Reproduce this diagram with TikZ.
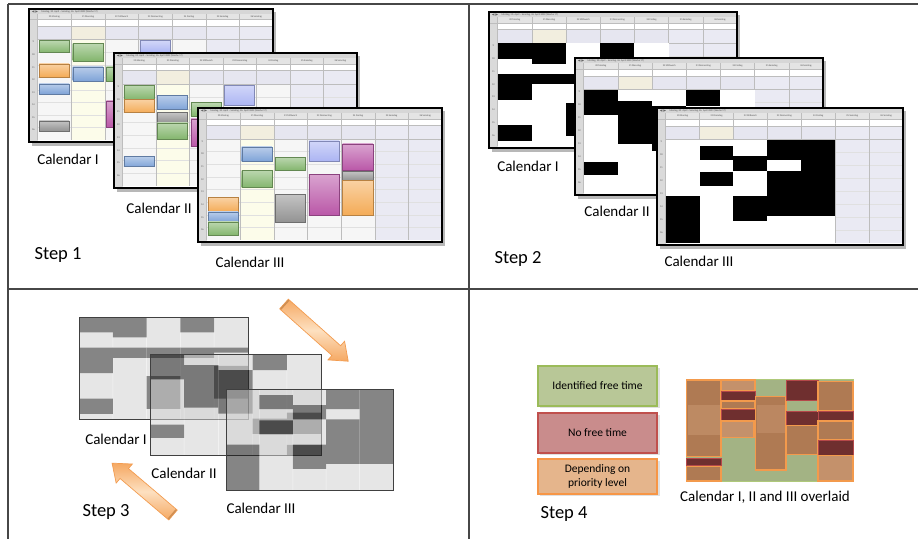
\documentclass[tikz,border=0pt]{standalone}
\usepackage{fontspec}
\setmainfont{Carlito}
\usetikzlibrary{calc}

% table rules
\definecolor{ruleline}{HTML}{474747}
% calendar window colours
\definecolor{caltitle}{HTML}{D6D6D6}
\definecolor{calhead}{HTML}{E4E4E4}
\definecolor{calhour}{HTML}{DADADA}
\definecolor{calallday}{HTML}{E6E6F0}
\definecolor{caltue}{HTML}{F2EEDF}
\definecolor{calgrid}{HTML}{F6F6F6}
\definecolor{calyellow}{HTML}{FCFCEA}
\definecolor{calweekend}{HTML}{EAEAF3}
\definecolor{calsep}{HTML}{BDBDBD}
\definecolor{calhline}{HTML}{E0E0E0}
% event colours
\definecolor{evgreen}{HTML}{84B66E}
\definecolor{evorange}{HTML}{F4AC58}
\definecolor{evblue}{HTML}{80A4D8}
\definecolor{evlav}{HTML}{ACB5F3}
\definecolor{evmag}{HTML}{BA58A8}
\definecolor{evgray}{HTML}{939393}
% arrows
\definecolor{arrowedge}{HTML}{F5A862}
\definecolor{arrowpale}{HTML}{FDE0C0}
\definecolor{arrowline}{HTML}{F39C50}
% legend and overlay
\definecolor{lgfree}{HTML}{B8C797}
\definecolor{lgfreeline}{HTML}{9BBB59}
\definecolor{lgbusy}{HTML}{C98C8C}
\definecolor{lgbusyline}{HTML}{C0504D}
\definecolor{lgprio}{HTML}{E5B58C}
\definecolor{lgprioline}{HTML}{F79646}
\definecolor{ovgreen}{HTML}{A3B384}
\definecolor{ovbrown}{HTML}{AF7A53}
\definecolor{ovbrownlight}{HTML}{C4916B}
\definecolor{ovmaroon}{HTML}{6F2F2F}
\definecolor{ovred}{HTML}{B5484A}
\definecolor{ovorange}{HTML}{F39A4C}

\tikzset{
  rule/.style={draw=ruleline, line width=1.4pt},
  callabel/.style={font=\fontsize{15}{18}\selectfont, inner sep=0pt},
  steplabel/.style={font=\fontsize{18.5}{22}\selectfont, inner sep=0pt},
  tinytext/.style={font=\fontsize{2.5}{3}\selectfont, inner sep=0pt, text=black!70},
  legendbox/.style={minimum width=119pt, inner sep=0pt, line width=1.3pt,
    font=\fontsize{11.5}{14}\selectfont, align=center},
  ovbusy/.style={fill=ovmaroon, draw=ovred, line width=.9pt},
  ovprio/.style={fill=ovbrown, draw=ovorange, line width=1.1pt},
}

% unit layout of a calendar window: hour column, day column width
\def\calhc{0.035}
\def\calcw{0.1379}

% busy blocks (day / start / end as fractions of the working day)
\def\calIbusy{0/0/.15, 0/.30/.55, 0/.80/.95, 1/0/.20, 1/.30/.40, 2/.30/.40, 2/.58/.90, 3/0/.15, 3/.30/.40, 4/.30/.35, 4/.48/.80}
\def\calIIbusy{0/0/.25, 0/.70/.83, 1/.11/.53, 2/.16/.59, 3/0/.16, 3/.64/.79, 4/.58/.79, 4/.90/1}
\def\calIIIbusy{0/.55/1, 1/.06/.20, 1/.31/.45, 2/.16/.30, 2/.55/.79, 3/0/.20, 3/.30/.74, 4/0/.74}
% coloured appointments
\def\calIevents{0/.01/.13/evgreen, 0/.24/.37/evorange, 0/.44/.54/evblue, 0/.81/.91/evgray, 1/.04/.21/evgreen, 1/.27/.41/evblue, 2/.27/.41/evgreen, 2/.61/.87/evmag, 3/.01/.13/evlav}
\def\calIIevents{0/.01/.15/evgreen, 0/.15/.28/evorange, 0/.71/.81/evblue, 1/.11/.25/evblue, 1/.28/.38/evgray, 1/.38/.54/evgreen, 2/.18/.31/evgreen, 2/.34/.61/evmag, 3/.01/.21/evlav}
\def\calIIIevents{0/.58/.72/evorange, 0/.72/.82/evblue, 0/.82/.95/evgreen, 1/.08/.22/evblue, 1/.31/.48/evgreen, 2/.18/.31/evgreen, 2/.55/.82/evgray, 3/.02/.22/evlav, 3/.35/.75/evmag, 4/.05/.31/evmag, 4/.32/.41/evgray, 4/.41/.75/evorange}

% week-view window: #1 name, #2/#3 top left, #4/#5 size, #6 mode (1 colour, 2 busy), #7 entries
\newcommand\calwin[7]{%
  \fill[black,opacity=.28] ({#2+2.5},{#3+3}) rectangle ({#2+#4+3},{#3+#5+3.5});
  \begin{scope}[shift={(#2,#3)}, x=#4pt, y=-#5pt]
    \fill[white] (0,0) rectangle (1,1);
    \fill[caltitle] (0,0) rectangle (1,.037);
    \fill[calhead] (\calhc,.037) rectangle (1,.08);
    \fill[calhour] (0,.037) rectangle (\calhc,1);
    \fill[calallday] (\calhc,.13) rectangle ({\calhc+7*\calcw},.23);
    \fill[caltue] ({\calhc+\calcw},.13) rectangle ({\calhc+2*\calcw},.23);
    \fill[calgrid] (\calhc,.23) rectangle ({\calhc+7*\calcw},.985);
    \fill[calyellow] ({\calhc+\calcw},.23) rectangle ({\calhc+2*\calcw},.985);
    \fill[calweekend] ({\calhc+5*\calcw},.13) rectangle ({\calhc+7*\calcw},.985);
    \foreach \i in {1,...,7}
      \draw[calhline, line width=.3pt] (\calhc,{.23+\i*.755/8}) -- ({\calhc+7*\calcw},{.23+\i*.755/8});
    \foreach \k in {0,...,7}
      \draw[calsep, line width=.4pt] ({\calhc+\k*\calcw},.037) -- ({\calhc+\k*\calcw},.985);
    \draw[calsep, line width=.4pt] (0,.08) -- (1,.08) (\calhc,.13) -- (1,.13) (\calhc,.23) -- (1,.23);
    \ifnum#6=2
      \fill[white] (\calhc,.23) rectangle ({\calhc+5*\calcw},.985);
      \foreach \d/\s/\e/\col in #7
        \fill[black] ({\calhc+\d*\calcw},{.23+\s*.755}) rectangle ({\calhc+(\d+1)*\calcw},{.23+\e*.755});
    \else
      \foreach \d/\s/\e/\col in #7
        \draw[line width=.3pt, draw=\col!75!black, top color=\col!55!white, bottom color=\col]
          ({\calhc+\d*\calcw+.006},{.23+\s*.755}) rectangle ({\calhc+(\d+1)*\calcw-.008},{.23+\e*.755});
    \fi
    \fill[black!60] (.012,.0185) -- (.022,.010) -- (.022,.027) -- cycle;
    \fill[black!60] (.036,.0185) -- (.026,.010) -- (.026,.027) -- cycle;
    \node[tinytext, anchor=west] (#1-title) at (.05,.0185) {Montag, 20. April – Sonntag, 26. April 2009 (Woche 17)};
    \foreach \n [count=\k from 0] in {20 Montag, 21 Dienstag, 22 Mittwoch, 23 Donnerstag, 24 Freitag, 25 Samstag, 26 Sonntag}
      \node[tinytext] (#1-day\k) at ({\calhc+(\k+.5)*\calcw},.0585) {\n};
    \foreach \h [count=\i] in {9,...,16}
      \node[tinytext] (#1-hour\h) at ({\calhc/2},{.23+(\i-.8)*.755/8}) {\h};
    \draw[black, line width=2.6pt] (0,0) rectangle (1,1);
  \end{scope}}

% grey busy map: #1/#2 top left, #3/#4 size, #5 entries
\newcommand\graycal[5]{%
  \begin{scope}[shift={(#1,#2)}, x=#3pt, y=-#4pt]
    \begin{scope}[transparency group, opacity=.53]
      \fill[black!18] (0,0) rectangle (1,1);
      \foreach \k in {1,...,4} \draw[black!6, line width=.5pt] ({\k/5},0) -- ({\k/5},1);
      \foreach \d/\s/\e in #5 \fill[black!90] ({\d/5},\s) rectangle ({(\d+1)/5},\e);
    \end{scope}
    \draw[black!75, line width=.7pt] (0,0) rectangle (1,1);
  \end{scope}}

% block arrow: #1/#2 tail centre, #3 direction angle, #4 length
\newcommand\orangearrow[4]{%
  \begin{scope}[shift={(#1,#2)}, rotate=#3]
    \draw[arrowline, line width=.7pt, top color=arrowedge, bottom color=arrowedge, middle color=arrowpale]
      (0,-6.5) -- ({#4-16},-6.5) -- ({#4-16},-12.5) -- (#4,0) -- ({#4-16},12.5) -- ({#4-16},6.5) -- (0,6.5) -- cycle;
    \draw[arrowedge!85!black, line width=1.6pt] (1,-6) -- (1,6);
  \end{scope}}

\begin{document}
\begin{tikzpicture}[x=1pt, y=-1pt]
  \useasboundingbox (0,0) rectangle (918,539);
  \fill[white] (0,0) rectangle (918,539);

  % ---------- table rules ----------
  \draw[rule] (8,4) -- (918,4);
  \draw[rule] (8,4) -- (8,539);
  \draw[rule] (469,4) -- (469,539);
  \draw[rule] (8,289) -- (918,289);

  % ---------- Step 1: the three calendars ----------
  \calwin{ca}{29}{9}{244}{133}{1}{\calIevents}
  \calwin{cb}{114}{53}{243}{135}{1}{\calIIevents}
  \calwin{cc}{198}{108}{244}{134}{1}{\calIIIevents}
  \node[callabel] (s1calI) at (68,159) {Calendar I};
  \node[callabel] (s1calII) at (159,208) {Calendar II};
  \node[callabel] (s1calIII) at (250,262) {Calendar III};
  \node[steplabel] (step1) at (58,255) {Step 1};

  % ---------- Step 2: busy / free ----------
  \calwin{da}{489}{12}{248}{136}{2}{\calIbusy}
  \calwin{db}{575}{58}{248}{137}{2}{\calIIbusy}
  \calwin{dc}{657}{108}{246}{137}{2}{\calIIIbusy}
  \node[callabel] (s2calI) at (528,166) {Calendar I};
  \node[callabel] (s2calII) at (617,211) {Calendar II};
  \node[callabel] (s2calIII) at (699,261) {Calendar III};
  \node[steplabel] (step2) at (518,259) {Step 2};

  % ---------- Step 3: stacked grey maps ----------
  \graycal{79}{317}{169}{102}{\calIbusy}
  \graycal{150}{354}{171}{101}{\calIIbusy}
  \graycal{226}{389}{167}{101}{\calIIIbusy}
  \orangearrow{284}{304}{-41.7}{86}
  \orangearrow{173}{515}{139.6}{80}
  \node[callabel] (s3calI) at (116,439) {Calendar I};
  \node[callabel] (s3calII) at (184,473) {Calendar II};
  \node[callabel] (s3calIII) at (261,508) {Calendar III};
  \node[steplabel] (step3) at (106,512) {Step 3};

  % ---------- Step 4: legend ----------
  \fill[black, opacity=.12] (540,368) rectangle (659.5,408);
  \fill[black, opacity=.12] (540,415) rectangle (659.5,455);
  \fill[black, opacity=.12] (540,461) rectangle (659.5,496);
  \node[legendbox, minimum height=40pt, fill=lgfree, draw=lgfreeline] (free) at (597.5,386) {Identified free time};
  \node[legendbox, minimum height=40pt, fill=lgbusy, draw=lgbusyline] (busy) at (597.5,433) {No free time};
  \node[legendbox, minimum height=35pt, fill=lgprio, draw=lgprioline] (prio) at (597.5,476.5) {Depending on\\priority level};

  % ---------- Step 4: overlaid calendars ----------
  \fill[ovgreen] (686,379.5) rectangle (853,481);
  \draw[lgfreeline!80!white, line width=.6pt] (686,379.5) rectangle (853,481);
  % Monday
  \path[ovprio] (686.5,380) rectangle (721,456.5);
  \fill[ovbrownlight, opacity=.7] (688,405) rectangle (719.5,435);
  \path[ovbusy] (686.5,458) rectangle (721,465);
  \path[ovprio] (686.5,466.5) rectangle (721,481);
  % Tuesday
  \path[ovprio, fill=ovbrownlight] (721,380) rectangle (755,391);
  \path[ovbusy] (721,391) rectangle (755,401);
  \path[ovprio] (721,401) rectangle (755,409);
  \path[ovbusy] (721,409) rectangle (755,421);
  \path[ovprio, fill=ovbrownlight] (721,421) rectangle (754,437.5);
  % Wednesday
  \path[ovprio] (755.5,396.5) rectangle (786,470);
  \fill[ovbrownlight, opacity=.6] (757,405) rectangle (784.5,433);
  % Thursday
  \path[ovbusy] (786,380) rectangle (818,400);
  \path[ovbusy] (786,411) rectangle (818,425.5);
  \path[ovprio] (786,425.5) rectangle (818,454.5);
  % Friday
  \path[ovprio] (818,381.5) rectangle (853,411);
  \path[ovbusy] (818,411) rectangle (853,421);
  \path[ovprio] (818,421) rectangle (853,440);
  \path[ovbusy] (818,440) rectangle (853,455.5);
  \path[ovprio, fill=ovbrownlight] (818,455.5) rectangle (853,481);
  \node[callabel] (overlaid) at (765,497) {Calendar I, II and III overlaid};
  \node[steplabel] (step4) at (564,514) {Step 4};
\end{tikzpicture}
\end{document}
